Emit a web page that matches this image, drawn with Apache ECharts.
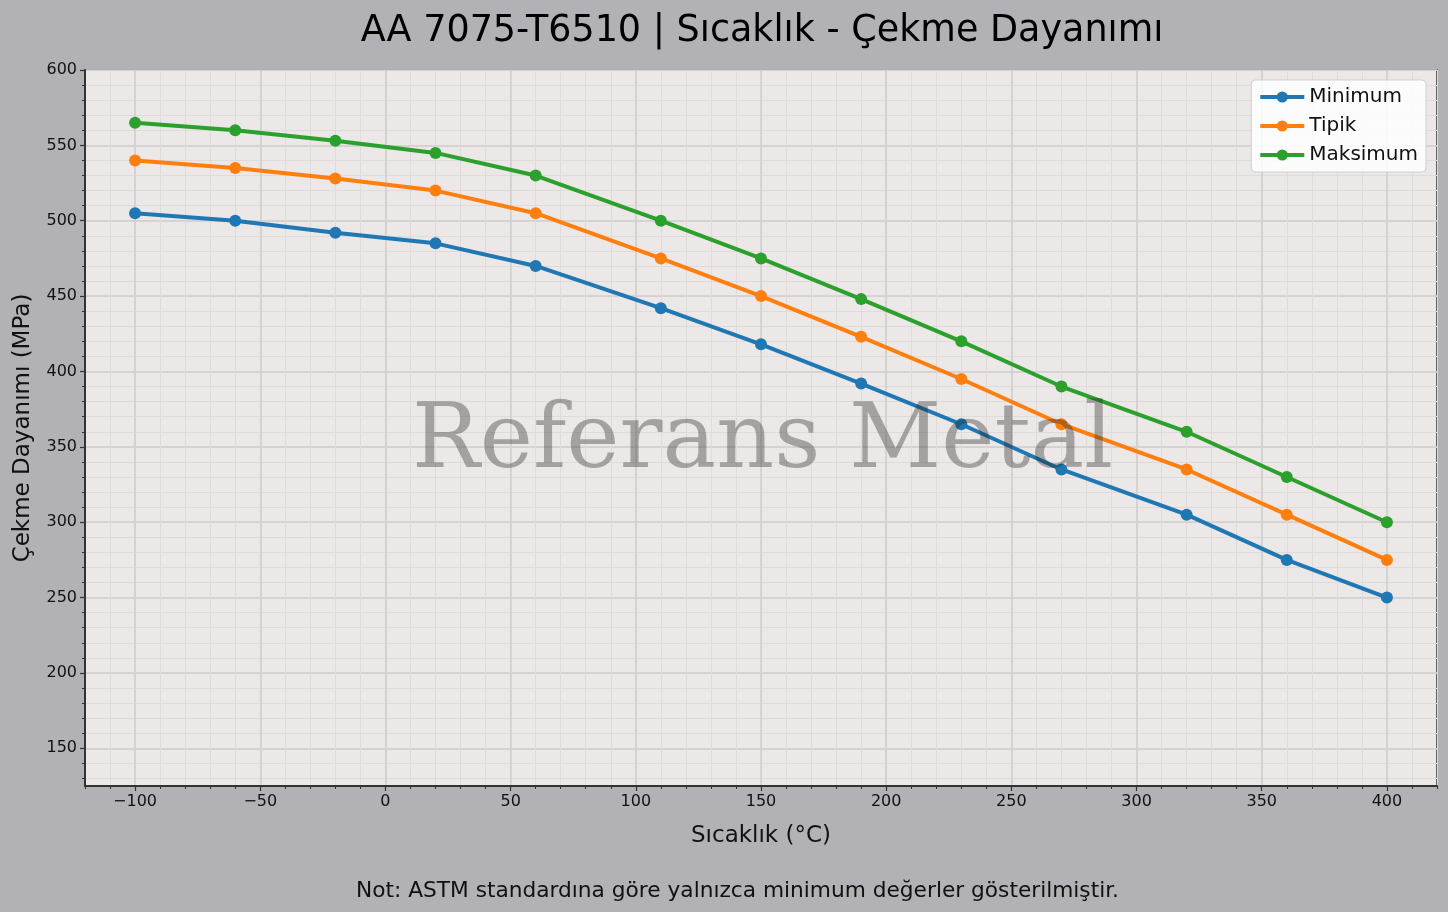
<!DOCTYPE html>
<html>
<head>
<meta charset="utf-8">
<script src="https://cdn.jsdelivr.net/npm/echarts@6/dist/echarts.min.js"></script>
<style>
html,body{margin:0;padding:0;background:#b2b1b6;}
#chart{width:1448px;height:912px;}
</style>
</head>
<body>
<div id="chart"></div>
<script>
// sıcaklık noktaları (°C)
var temps = [-100, -60, -20, 20, 60, 110, 150, 190, 230, 270, 320, 360, 400];
// çekme dayanımı (MPa)
var minValues = [505, 500, 492, 485, 470, 442, 418, 392, 365, 335, 305, 275, 250];
var typValues = [540, 535, 528, 520, 505, 475, 450, 423, 395, 365, 335, 305, 275];
var maxValues = [565, 560, 553, 545, 530, 500, 475, 448, 420, 390, 360, 330, 300];
var seriesNames = ['Minimum', 'Tipik', 'Maksimum'];
var seriesColors = ['#1f77b4', '#ff7f0e', '#2ca02c'];

var xMajorTicks = [-100, -50, 0, 50, 100, 150, 200, 250, 300, 350, 400];
var yMajorTicks = [150, 200, 250, 300, 350, 400, 450, 500, 550, 600];
var xRange = [-120, 420];
var yRange = [125, 600];

function minorsOf(range, majors) {
    var out = [];
    for (var v = Math.ceil(range[0] / 10) * 10; v <= range[1]; v += 10) {
        if (majors.indexOf(v) < 0) out.push(v);
    }
    return out;
}
var xMinorTicks = minorsOf(xRange, xMajorTicks);
var yMinorTicks = minorsOf(yRange, yMajorTicks);

var TXT = '#111';
var FONT = 'DejaVu Sans';
var MINOR_GRID = '#dfdbda';
var MAJOR_GRID = '#d2cecd';
var T = 'rgba(0,0,0,0)';

function pairs(vals) {
    var d = [];
    for (var i = 0; i < temps.length; i++) d.push([temps[i], vals[i]]);
    return d;
}

function baseAxis(range, pos) {
    return {
        type: 'value', min: range[0], max: range[1], position: pos,
        axisLine: {show: false, onZero: false}, axisTick: {show: false}, axisLabel: {show: false},
        splitLine: {show: false}
    };
}

var chart = echarts.init(document.getElementById('chart'));

// x: ızgara eksenleri
var xMinorGrid = baseAxis(xRange, 'bottom');
xMinorGrid.interval = 10;
xMinorGrid.splitLine = {show: true, lineStyle: {color: [MINOR_GRID], width: 1}};
var xMajorGrid = baseAxis(xRange, 'bottom');
xMajorGrid.interval = 10;
xMajorGrid.splitLine = {show: true, lineStyle: {color: [T, T, MAJOR_GRID, T, T], width: 1.5}};
var xMinorAx = baseAxis(xRange, 'bottom');
xMinorAx.axisTick = {show: true, customValues: xMinorTicks, length: 3, lineStyle: {color: '#333', width: 1}};
var xMajorAx = baseAxis(xRange, 'bottom');
xMajorAx.axisLine = {show: true, onZero: false, lineStyle: {color: '#333', width: 2}};
xMajorAx.axisTick = {show: true, customValues: xMajorTicks, length: 5, lineStyle: {color: '#333', width: 1.2}};
xMajorAx.axisLabel = {show: true, customValues: xMajorTicks, color: TXT, fontFamily: FONT, fontSize: 16, margin: 8,
    formatter: function (v) { return v < 0 ? '\u2212' + (-v) : String(v); }};
xMajorAx.name = 'Sıcaklık (°C)';
xMajorAx.nameLocation = 'middle';
xMajorAx.nameGap = 39;
xMajorAx.nameTextStyle = {color: TXT, fontFamily: FONT, fontSize: 23};

// y: ızgara eksenleri (5 aralıklı, renk döngüsü ile 10'luk ve 50'lik çizgiler)
var yMinorGrid = baseAxis(yRange, 'left');
yMinorGrid.interval = 5;
yMinorGrid.splitLine = {show: true, lineStyle: {color: [T, MINOR_GRID], width: 1}};
var yMajorGrid = baseAxis(yRange, 'left');
yMajorGrid.interval = 25;
yMajorGrid.splitLine = {show: true, lineStyle: {color: [T, MAJOR_GRID], width: 1.5}};
var yMinorAx = baseAxis(yRange, 'left');
yMinorAx.axisTick = {show: true, customValues: yMinorTicks, length: 3, lineStyle: {color: '#333', width: 1}};
var yMajorAx = baseAxis(yRange, 'left');
yMajorAx.axisLine = {show: true, onZero: false, lineStyle: {color: '#333', width: 2}};
yMajorAx.axisTick = {show: true, customValues: yMajorTicks, length: 5, lineStyle: {color: '#333', width: 1.2}};
yMajorAx.axisLabel = {show: true, customValues: yMajorTicks, color: TXT, fontFamily: FONT, fontSize: 16, margin: 8};
yMajorAx.name = 'Çekme Dayanımı (MPa)';
yMajorAx.nameLocation = 'middle';
yMajorAx.nameGap = 50;
yMajorAx.nameTextStyle = {color: TXT, fontFamily: FONT, fontSize: 23};

var allVals = [minValues, typValues, maxValues];
var series = [];
for (var s = 0; s < 3; s++) {
    series.push({
        name: seriesNames[s], type: 'line', data: pairs(allVals[s]),
        xAxisIndex: 0, yAxisIndex: 0,
        symbol: 'circle', symbolSize: 12,
        lineStyle: {width: 4, color: seriesColors[s]},
        itemStyle: {color: seriesColors[s]},
        emphasis: {disabled: true}, z: 3
    });
}

var option = {
    backgroundColor: '#b2b1b6',
    animation: false,
    title: {
        text: 'AA 7075-T6510 | Sıcaklık - Çekme Dayanımı',
        left: 757, top: 8, textAlign: 'center',
        textStyle: {color: '#000', fontFamily: FONT, fontSize: 36.5, fontWeight: 'normal'}
    },
    grid: {
        left: 85, right: 11, top: 70, bottom: 126,
        show: true, backgroundColor: '#ebe8e7', borderColor: '#333', borderWidth: 1.5
    },
    legend: {
        right: 22, top: 80, orient: 'vertical',
        data: seriesNames,
        itemWidth: 44, itemHeight: 14, itemGap: 9,
        padding: [7, 8, 7, 7],
        lineStyle: {width: 4},
        backgroundColor: 'rgba(255,255,255,0.85)',
        borderColor: '#cfcfcf', borderWidth: 1, borderRadius: 4,
        textStyle: {color: TXT, fontFamily: FONT, fontSize: 20}
    },
    xAxis: [xMinorGrid, xMajorGrid, xMinorAx, xMajorAx],
    yAxis: [yMinorGrid, yMajorGrid, yMinorAx, yMajorAx],
    series: series,
    graphic: [
        {
            type: 'text', left: 412, top: 399, z: 100, silent: true,
            style: {text: 'Referans Metal', fontFamily: 'DejaVu Serif', fontSize: 90,
                fill: 'rgba(40,40,40,0.36)'}
        },
        {
            type: 'text', left: 356, top: 880, silent: true,
            style: {text: 'Not: ASTM standardına göre yalnızca minimum değerler gösterilmiştir.',
                fontFamily: FONT, fontSize: 21.7, fill: '#111'}
        }
    ]
};
chart.setOption(option);
</script>
</body>
</html>
